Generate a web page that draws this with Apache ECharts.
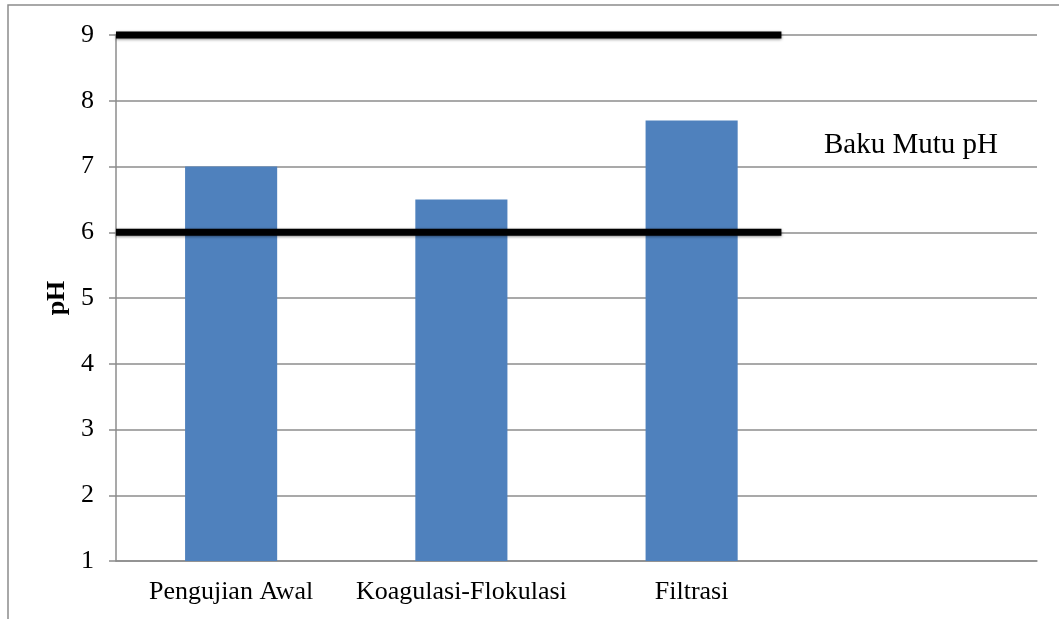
<!DOCTYPE html>
<html>
<head>
<meta charset="utf-8">
<script src="https://cdn.jsdelivr.net/npm/echarts@6/dist/echarts.min.js"></script>
<style>
  html, body { margin: 0; padding: 0; background: #fff; }
  #chart { width: 1059px; height: 619px; }
</style>
</head>
<body>
<div id="chart"></div>
<script>
  // categories and values
  const categories = ["Pengujian Awal", "Koagulasi-Flokulasi", "Filtrasi", ""];
  const phValues = [7.0, 6.5, 7.7, null];
  const yTicks = [1, 9, 1]; // min, max, interval

  // baku mutu limits (pH 6 - 9), drawn from the axis to about 2.89 bands
  const bakuMutu = [6, 9];
  const limitExtent = [0, 2.89];

  const FONT = "'Liberation Serif', 'Times New Roman', serif";

  const chart = echarts.init(document.getElementById("chart"));

  const limitSeries = bakuMutu.map((v) => ({
    type: "line",
    xAxisIndex: 1,
    data: limitExtent.map((x) => [x, v]),
    symbol: "none",
    clip: false,
    silent: true,
    z: 5,
    lineStyle: {
      color: "#000",
      width: 7,
      cap: "butt",
      shadowColor: "rgba(0,0,0,0.45)",
      shadowBlur: 3,
      shadowOffsetY: 1,
    },
  }));

  const option = {
    animation: false,
    backgroundColor: "#fff",
    grid: { left: 116, right: 22, top: 35, bottom: 58 },
    xAxis: [
      {
        type: "category",
        data: categories,
        axisLine: { lineStyle: { color: "#8c8c8c", width: 1.5 } },
        axisTick: { show: false },
        axisLabel: {
          color: "#000",
          fontFamily: FONT,
          fontSize: 26,
          margin: 18,
          interval: 0,
        },
      },
      {
        type: "value",
        min: 0,
        max: categories.length,
        show: false,
      },
    ],
    yAxis: {
      type: "value",
      min: yTicks[0],
      max: yTicks[1],
      interval: yTicks[2],
      name: "pH",
      nameLocation: "middle",
      nameGap: 44,
      nameTextStyle: {
        color: "#000",
        fontFamily: FONT,
        fontSize: 26,
        fontWeight: "bold",
      },
      axisLine: { show: true, lineStyle: { color: "#8c8c8c", width: 1.5 } },
      axisTick: { show: true, length: 7, lineStyle: { color: "#8c8c8c", width: 1.5 } },
      axisLabel: {
        color: "#000",
        fontFamily: FONT,
        fontSize: 26,
        margin: 22,
      },
      splitLine: { lineStyle: { color: "#8c8c8c", width: 1.5 } },
    },
    series: [
      {
        type: "bar",
        data: phValues,
        barCategoryGap: "60%",
        itemStyle: { color: "#4f81bd" },
        z: 3,
      },
      ...limitSeries,
    ],
    graphic: [
      {
        type: "rect",
        shape: { x: 8, y: 5, width: 1200, height: 800 },
        style: { fill: "none", stroke: "#8c8c8c", lineWidth: 1.5 },
        silent: true,
      },
      {
        type: "text",
        left: 824,
        top: 131,
        style: {
          text: "Baku Mutu pH",
          fill: "#000",
          font: "29px " + FONT,
        },
      },
    ],
  };

  chart.setOption(option);
</script>
</body>
</html>
